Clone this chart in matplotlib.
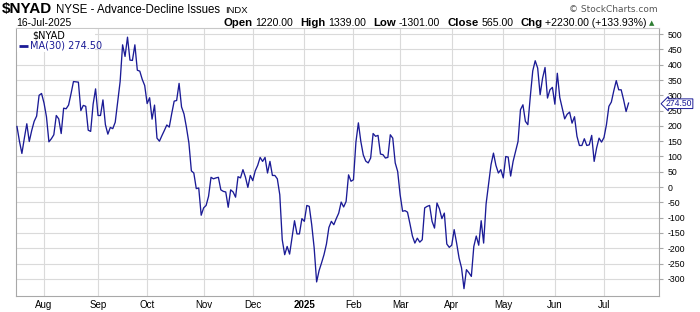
import numpy as np
import pandas as pd
import matplotlib
matplotlib.use("Agg")
import matplotlib.pyplot as plt
from matplotlib.patches import Rectangle
from matplotlib.transforms import blended_transform_factory

# NYSE trading days, 17-Jul-2024 .. 16-Jul-2025
holidays = ["2024-09-02", "2024-11-28", "2024-12-25", "2025-01-01", "2025-01-09",
			"2025-01-20", "2025-02-17", "2025-04-18", "2025-05-26", "2025-06-19",
			"2025-07-04"]
dates = pd.bdate_range("2024-07-17", "2025-07-16", freq="C", holidays=holidays)

# 30 day moving average of $NYAD
nyad_ma = [
	198, 150, 110, 160, 207, 149, 185, 215, 232, 300,
	306, 275, 230, 148, 158, 171, 234, 223, 175, 258,
	256, 268, 305, 345, 344, 343, 250, 267, 264, 186,
	182, 271, 321, 234, 234, 285, 204, 173, 195, 191,
	212, 280, 345, 465, 427, 490, 415, 414, 465, 382,
	379, 352, 332, 273, 292, 222, 268, 160, 150, 168,
	185, 203, 196, 240, 281, 283, 339, 262, 239, 195,
	144, 53, 46, -5, -3, -92, -68, -60, -30, 32,
	27, 30, 32, -9, -14, -16, -66, -9, -16, -33,
	34, 30, 57, 33, -1, 38, 21, 53, 71, 97,
	84, 97, 46, 84, 38, 38, 27, -25, -172, -221,
	-194, -219, -164, -110, -153, -153, -103, -112, -60, -63,
	-123, -199, -310, -273, -248, -221, -186, -132, -112, -123,
	-103, -85, -49, -65, -47, 40, 19, 24, 147, 210,
	149, 105, 85, 79, 95, 175, 166, 169, 108, 106,
	95, 97, 171, 160, 79, 51, -25, -79, -77, -82,
	-120, -160, -183, -167, -180, -172, -68, -63, -60, -112,
	-134, -52, -71, -103, -85, -186, -197, -190, -139, -183,
	-232, -264, -332, -270, -280, -292, -194, -160, -190, -110,
	-183, -55, 10, 73, 111, 71, 46, 57, 30, 100,
	98, 36, 84, 117, 149, 253, 269, 215, 204, 296,
	380, 413, 389, 302, 356, 391, 291, 318, 326, 271,
	372, 293, 258, 223, 238, 245, 209, 230, 166, 136,
	136, 158, 136, 138, 169, 84, 128, 160, 147, 162,
	204, 264, 278, 315, 348, 318, 318, 285, 247, 274.5,
]
last_value = 274.50

y_ticks = list(range(-300, 501, 50))

navy = "#1b1b96"
W, H = 700, 312

def px(x, y):
	return x / W, 1 - y / H

fig = plt.figure(figsize=(W / 100, H / 100), dpi=100)
ax = fig.add_axes([16 / W, (H - 296) / H, 643 / W, 268 / H])

idx = np.arange(len(nyad_ma))
ax.plot(idx, nyad_ma, color=navy, lw=0.95, zorder=3)

ax.set_xlim(-0.4, 261.4)
ax.set_ylim(-356, 520)

# month gridlines at the first trading day of each month
month_pos = []
month_lab = []
for i in range(1, len(dates)):
	if dates[i].month != dates[i - 1].month:
		month_pos.append(i)
		month_lab.append("2025" if dates[i].month == 1 else dates[i].strftime("%b"))
ax.set_xticks(month_pos)
ax.set_xticklabels(month_lab, fontsize=7, family="Liberation Sans")
for lab in ax.get_xticklabels():
	if lab.get_text() == "2025":
		lab.set_fontweight("bold")
ax.tick_params(axis="x", length=0, pad=3)

ax.set_yticks(y_ticks)
ax.set_yticklabels([str(v) for v in y_ticks], fontsize=6.3, family="Liberation Sans")
ax.yaxis.tick_right()
ax.tick_params(axis="y", length=3, pad=3, color="#a8a8a8")

ax.grid(True, color="#dadada", lw=0.8, zorder=0)
ax.set_axisbelow(True)
for s in ["left", "bottom", "right"]:
	ax.spines[s].set_color("#a8a8a8")
ax.spines["top"].set_color("#c8c8c8")

# legend box in the top left corner
ax.add_patch(Rectangle(((17 - 16) / 643, (296 - 52) / 268), 78 / 643, 23 / 268,
					   transform=ax.transAxes, fc="white", ec="none", zorder=4))
ax.text((32 - 16) / 643, (296 - 39) / 268, "$NYAD", transform=ax.transAxes,
		fontsize=7, family="DejaVu Sans", va="baseline", zorder=5)
ax.plot([(19 - 16) / 643, (28 - 16) / 643], [(296 - 46) / 268] * 2, transform=ax.transAxes,
		color=navy, lw=2, solid_capstyle="butt", zorder=5)
ax.text((30 - 16) / 643, (296 - 49) / 268, "MA(30) %.2f" % last_value, transform=ax.transAxes,
		fontsize=7, family="DejaVu Sans", color=navy, va="baseline", zorder=5)

# price tag on the right axis
trans = blended_transform_factory(ax.transAxes, ax.transData)
ax.text(1 + 7 / 643, last_value - 2, "%.2f" % last_value, transform=trans, fontsize=6.2,
		family="Liberation Sans", color=navy, ha="left", va="center", clip_on=False,
		zorder=10, bbox=dict(boxstyle="larrow,pad=0.04", fc="white", ec=navy, lw=0.7))

# header
def chain(x, y, pieces):
	fig.canvas.draw()
	r = fig.canvas.get_renderer()
	for text, kw, gap in pieces:
		t = fig.text(*px(x, y), text, va="baseline", ha="left", **kw)
		bb = t.get_window_extent(renderer=r)
		x += bb.width + gap

chain(2, 13.3, [
	("$NYAD", dict(fontsize=11, fontweight="bold", family="Liberation Sans"), 4),
	("NYSE - Advance-Decline Issues", dict(fontsize=8.3, family="Liberation Sans"), 5),
	("INDX", dict(fontsize=6.8, family="Liberation Sans"), 0),
])
fig.text(*px(16, 25.5), dates[-1].strftime("%d-%b-%Y"), fontsize=7.5,
		 family="Liberation Sans", va="baseline")

b = dict(fontsize=8.2, fontweight="bold", family="Liberation Sans")
n = dict(fontsize=7.6, family="Liberation Sans")
chain(223, 25.5, [
	("Open", b, 3), ("1220.00", n, 7),
	("High", b, 3), ("1339.00", n, 7),
	("Low", b, 3), ("-1301.00", n, 7),
	("Close", b, 3), ("565.00", n, 7),
	("Chg", b, 3), ("+2230.00 (+133.93%)", n, 2),
	("\u25b2", dict(fontsize=5, color="#2e7d32", family="DejaVu Sans"), 0),
])
fig.text(*px(658, 11.5), "\u00a9 StockCharts.com", fontsize=6.5, color="#555555",
		 family="DejaVu Sans", ha="right", va="baseline")

fig.savefig("out.png", dpi=100)
